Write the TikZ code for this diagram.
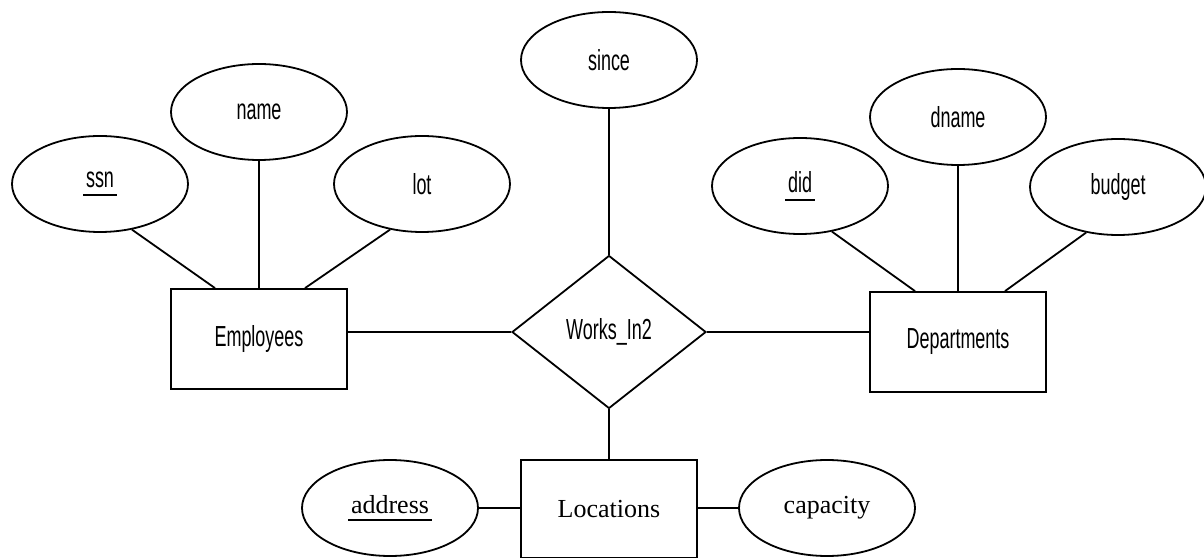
\documentclass[tikz,border=0pt]{standalone}
\usepackage{fontspec}
\usepackage{tikz}
\usetikzlibrary{shapes,arrows}
\newfontfamily\erfont[FakeStretch=0.62]{Liberation Sans}
\newfontfamily\locfont{Liberation Serif}
\newcommand{\pkey}[1]{\setbox0\hbox{#1}\rlap{\kern-3pt\rule[-8pt]{\dimexpr\wd0+6pt\relax}{1.8pt}}\box0}

\begin{document}
\begin{tikzpicture}[x=1pt, y=1pt, line width=1.8pt,
    attr/.style={ellipse, draw, minimum width=176pt, minimum height=96pt, inner sep=0pt, font=\erfont\fontsize{29}{32}\selectfont},
    entity/.style={rectangle, draw, minimum width=176pt, minimum height=100pt, inner sep=0pt, font=\erfont\fontsize{29}{32}\selectfont},
    rel/.style={diamond, draw, minimum width=194pt, minimum height=153pt, aspect=1.27, inner sep=0pt, font=\erfont\fontsize{29}{32}\selectfont},
    serif/.style={font=\locfont\fontsize{26}{30}\selectfont}]
    \useasboundingbox (0,0) rectangle (1204,557);

    % Employees and its attributes
    \node[entity] (emp) at (259,218) {Employees};
    \node[attr] (ssn)  at (100,373) {\pkey{ssn}};
    \node[attr] (name) at (259,445) {name};
    \node[attr] (lot)  at (422,373) {lot};
    \draw (ssn.-55) -- ([xshift=-44pt]emp.north);
    \draw (name) -- (emp);
    \draw (lot.-125) -- ([xshift=46pt]emp.north);

    % relationship
    \node[rel] (works) at (609,225) {Works\_In2};
    \node[attr] (since) at (609,497) {since};
    \draw (since) -- (works);

    % Departments and its attributes
    \node[entity] (dept) at (958,215) {Departments};
    \node[attr] (did)    at (800,371) {\pkey{did}};
    \node[attr] (dname)  at (958,440) {dname};
    \node[attr] (budget) at (1118,370) {budget};
    \draw (did.-55) -- ([xshift=-43pt]dept.north);
    \draw (dname) -- (dept);
    \draw (budget.-125) -- ([xshift=47pt]dept.north);

    % links to the relationship
    \draw (works.west) -- (works.west -| emp.east);
    \draw (works.east) -- (works.east -| dept.west);

    % Locations (serif)
    \node[entity, serif, minimum height=98pt] (loc) at (609,48) {Locations};
    \node[attr, serif] (addr) at (390,49) {\pkey{address}};
    \node[attr, serif] (cap)  at (827,49) {capacity};
    \draw (works) -- (loc);
    \draw (addr.east) -- (addr.east -| loc.west);
    \draw (cap.west) -- (cap.west -| loc.east);
\end{tikzpicture}
\end{document}
